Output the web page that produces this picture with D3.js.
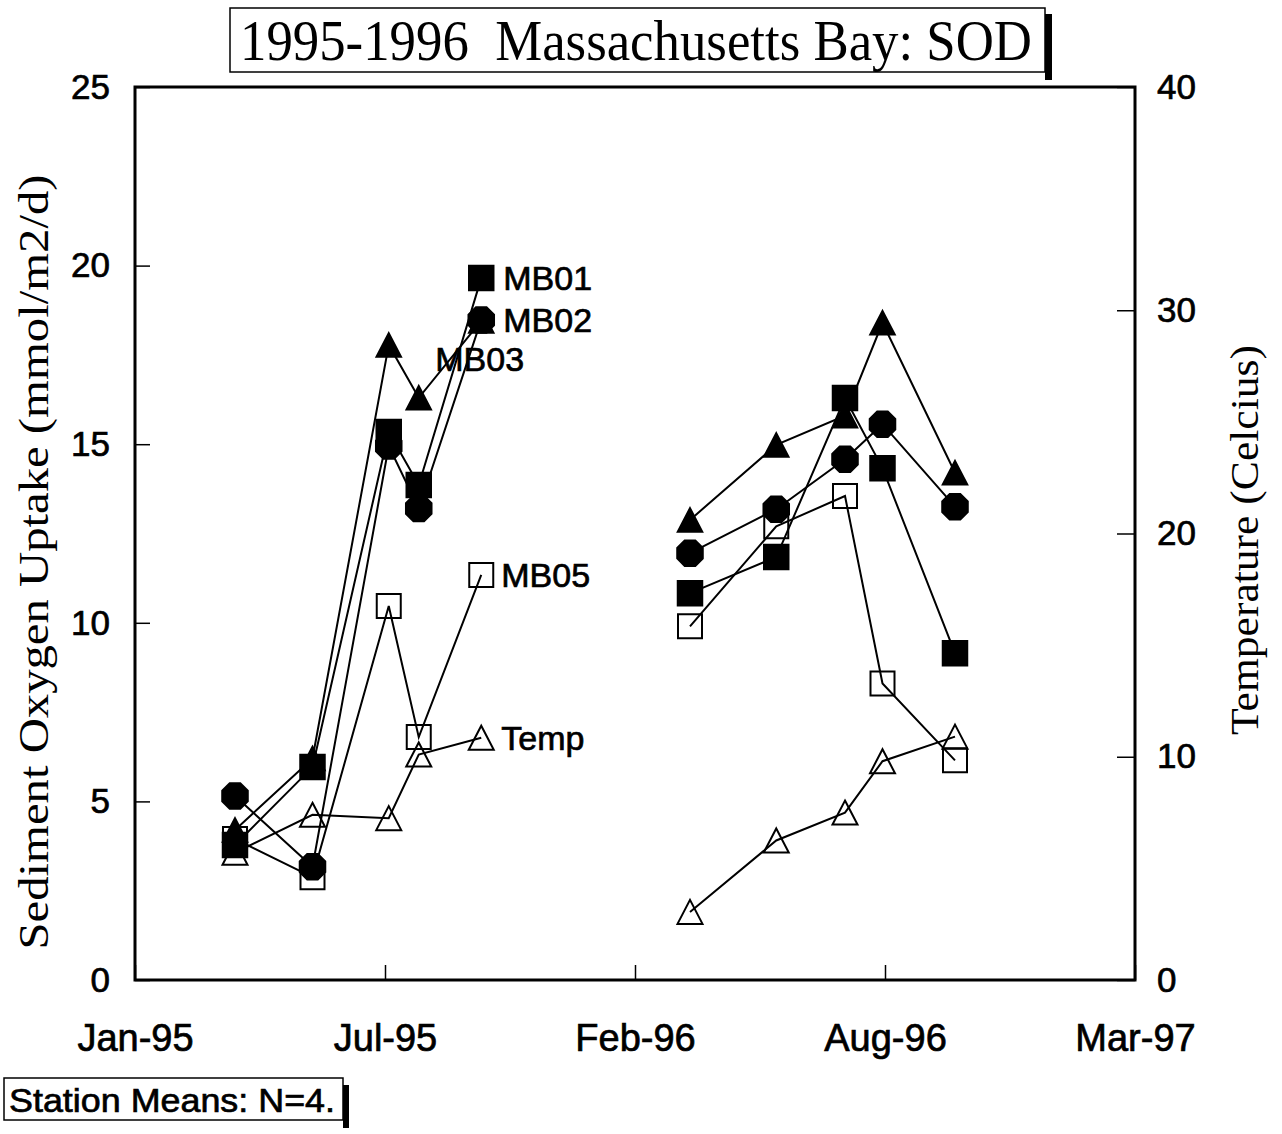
<!DOCTYPE html>
<html>
<head>
<meta charset="utf-8">
<script src="https://cdn.jsdelivr.net/npm/d3@7"></script>
<style>
  body { margin: 0; background: #fff; }
  svg { display: block; }
</style>
</head>
<body>
<div id="draw"></div>
<script>
// 1995-1996 Massachusetts Bay SOD: station means, left axis SOD, right axis temperature
var dates = ['1995-03-22','1995-05-23','1995-07-23','1995-08-16','1995-10-05',
             '1996-03-20','1996-05-28','1996-07-22','1996-08-21','1996-10-18'];
var mb01 = [3.78, 5.96, 15.34, 13.86, 19.65, 10.83, 11.84, 16.29, 14.33, 9.15];
var mb02 = [5.15, 3.17, 14.95, 13.2, 18.48, 11.95, 13.18, 14.58, 15.56, 13.25];
var mb03 = [4.2, 6.2, 17.78, 16.3, 18.45, 12.88, 14.98, 15.8, 18.4, 14.2];
var mb05 = [3.95, 2.88, 10.47, 6.8, 11.34, 9.9, 12.7, 13.55, 8.3, 6.15];
var temp = [5.7, 7.4, 7.25, 10.1, 10.85, 3.05, 6.25, 7.5, 9.8, 10.9];

var xTicks = ['1995-01-01','1995-07-20','1996-02-05','1996-08-23','1997-03-11'];
var yTicks = [0, 5, 10, 15, 20, 25];
var tTicks = [0, 10, 20, 30, 40];

window.onload = function(){
    var parse = d3.timeParse('%Y-%m-%d');
    var sans = 'Liberation Sans, Arial, sans-serif';
    var serif = 'Liberation Serif, Times New Roman, serif';

    var svg = d3.select('#draw').append('svg')
        .attr('width', 1282).attr('height', 1134)
        .style('background', '#fff');

    // plot frame
    var L = 135, R = 1135, T = 87, B = 980;

    var x = d3.scaleTime()
        .domain([parse(xTicks[0]), parse(xTicks[xTicks.length - 1])])
        .range([L, R]);
    var y = d3.scaleLinear().domain([0, 25]).range([B, T]);
    var yT = d3.scaleLinear().domain([0, 40]).range([B, T]);

    // axes (ticks point inward)
    var gx = svg.append('g').attr('transform', 'translate(0,' + B + ')')
        .call(d3.axisBottom(x).tickValues(xTicks.map(parse))
            .tickFormat(d3.timeFormat('%b-%y')).tickSize(-15).tickPadding(44));
    var gy = svg.append('g').attr('transform', 'translate(' + L + ',0)')
        .call(d3.axisLeft(y).tickValues(yTicks).tickSize(-15).tickPadding(25));
    var gt = svg.append('g').attr('transform', 'translate(' + R + ',0)')
        .call(d3.axisRight(yT).tickValues(tTicks).tickSize(-18).tickPadding(22));

    [gx, gy, gt].forEach(function(g){
        g.select('.domain').remove();
        g.selectAll('.tick line').attr('stroke', '#000').attr('stroke-width', 1.5);
        g.selectAll('text').attr('fill', '#000').attr('stroke', '#000').attr('stroke-width', 0.7)
            .style('font-family', sans).style('font-size', '35px');
    });
    gx.selectAll('text').style('font-size', '38px');

    svg.append('rect')
        .attr('x', L).attr('y', T).attr('width', R - L).attr('height', B - T)
        .attr('fill', 'none').attr('stroke', '#000').attr('stroke-width', 3);

    // marker shapes
    var octagon = {
        draw: function(ctx, size){
            var r = Math.sqrt(size / (2 * Math.SQRT2));
            for (var i = 0; i < 8; i++) {
                var a = Math.PI / 8 + i * Math.PI / 4;
                if (i) ctx.lineTo(r * Math.cos(a), r * Math.sin(a));
                else ctx.moveTo(r * Math.cos(a), r * Math.sin(a));
            }
            ctx.closePath();
        }
    };
    var triangle = {
        draw: function(ctx, size){
            var w = Math.sqrt(size);
            ctx.moveTo(0, -w * 0.48);
            ctx.lineTo(w / 2, w * 0.48);
            ctx.lineTo(-w / 2, w * 0.48);
            ctx.closePath();
        }
    };

    // drawn back to front so MB01 ends on top
    var series = [
        {name: 'Temp', values: temp, scale: yT, shape: triangle, size: 625, fill: 'none'},
        {name: 'MB05', values: mb05, scale: y, shape: d3.symbolSquare, size: 576, fill: 'none'},
        {name: 'MB03', values: mb03, scale: y, shape: triangle, size: 600, fill: '#000'},
        {name: 'MB02', values: mb02, scale: y, shape: octagon, size: 540, fill: '#000'},
        {name: 'MB01', values: mb01, scale: y, shape: d3.symbolSquare, size: 600, fill: '#000'}
    ];

    series.forEach(function(s){
        var pts = dates.map(function(d, i){ return {date: parse(d), v: s.values[i]}; });
        var line = d3.line()
            .x(function(p){ return x(p.date); })
            .y(function(p){ return s.scale(p.v); });
        // two sampling years, no line across the winter gap
        d3.groups(pts, function(p){ return p.date.getFullYear(); }).forEach(function(g){
            svg.append('path').attr('d', line(g[1]))
                .attr('fill', 'none').attr('stroke', '#000').attr('stroke-width', 2);
        });
        svg.selectAll(null).data(pts).enter().append('path')
            .attr('transform', function(p){ return 'translate(' + x(p.date) + ',' + s.scale(p.v) + ')'; })
            .attr('d', d3.symbol().type(s.shape).size(s.size))
            .attr('fill', s.fill).attr('stroke', '#000').attr('stroke-width', 2);
    });

    // series labels next to the last 1995 point
    var labelOffsets = {MB01: [22, 0], MB02: [22, 0], MB03: [-46, 38], MB05: [20, 0], Temp: [20, 0]};
    series.forEach(function(s){
        var off = labelOffsets[s.name];
        svg.append('text')
            .attr('x', x(parse(dates[4])) + off[0])
            .attr('y', s.scale(s.values[4]) + off[1])
            .attr('dy', '0.36em')
            .attr('stroke', '#000').attr('stroke-width', 0.7)
            .style('font-family', sans).style('font-size', '34px')
            .text(s.name);
    });

    // axis titles
    svg.append('text')
        .attr('transform', 'translate(48,562) rotate(-90)')
        .attr('text-anchor', 'middle')
        .attr('textLength', 775).attr('lengthAdjust', 'spacingAndGlyphs')
        .style('font-family', serif).style('font-size', '42px')
        .text('Sediment Oxygen Uptake (mmol/m2/d)');
    svg.append('text')
        .attr('transform', 'translate(1258,540) rotate(-90)')
        .attr('text-anchor', 'middle')
        .attr('textLength', 390).attr('lengthAdjust', 'spacingAndGlyphs')
        .style('font-family', serif).style('font-size', '40px')
        .text('Temperature (Celcius)');

    // title box with shadow bar
    svg.append('rect').attr('x', 1045).attr('y', 14).attr('width', 7).attr('height', 66).attr('fill', '#000');
    svg.append('rect').attr('x', 230).attr('y', 8).attr('width', 815).attr('height', 64)
        .attr('fill', '#fff').attr('stroke', '#000').attr('stroke-width', 1.5);
    svg.append('text')
        .attr('x', 240).attr('y', 60)
        .attr('textLength', 792).attr('lengthAdjust', 'spacingAndGlyphs')
        .style('font-family', serif).style('font-size', '58px').style('white-space', 'pre')
        .text('1995-1996  Massachusetts Bay: SOD');

    // note box
    svg.append('rect').attr('x', 343).attr('y', 1085).attr('width', 6).attr('height', 43).attr('fill', '#000');
    svg.append('rect').attr('x', 4).attr('y', 1078).attr('width', 339).attr('height', 42)
        .attr('fill', '#fff').attr('stroke', '#000').attr('stroke-width', 1.5);
    svg.append('text')
        .attr('x', 9).attr('y', 1112)
        .attr('textLength', 326).attr('lengthAdjust', 'spacingAndGlyphs')
        .attr('stroke', '#000').attr('stroke-width', 0.7)
        .style('font-family', sans).style('font-size', '34px')
        .text('Station Means: N=4.');
};
</script>
</body>
</html>
